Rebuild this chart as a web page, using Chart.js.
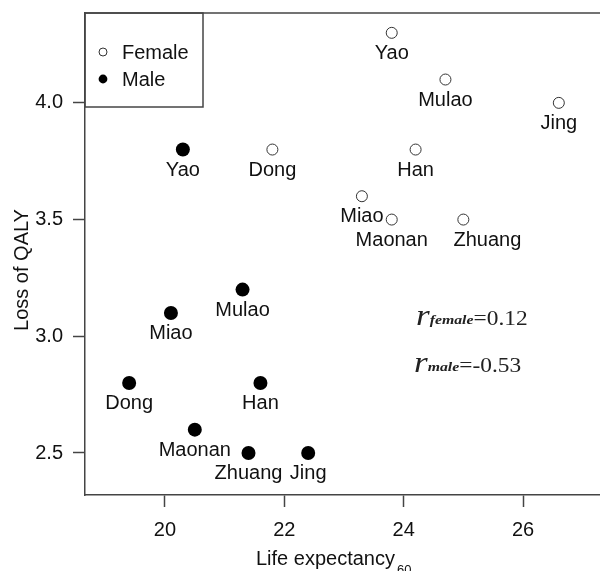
<!DOCTYPE html>
<html>
<head>
<meta charset="utf-8">
<script src="https://cdn.jsdelivr.net/npm/chart.js@4.4.1/dist/chart.umd.min.js"></script>
<style>
  html, body { margin: 0; padding: 0; background: #fff; }
  #wrap { width: 600px; height: 571px; }
</style>
</head>
<body>
<div id="wrap"><canvas id="qaly-chart" width="600" height="571"></canvas></div>
<script>
// values
const femaleGroups = ['Yao', 'Mulao', 'Jing', 'Dong', 'Han', 'Miao', 'Maonan', 'Zhuang'];
const femaleLife = [23.8, 24.7, 26.6, 21.8, 24.2, 23.3, 23.8, 25.0];
const femaleQaly = [4.3, 4.1, 4.0, 3.8, 3.8, 3.6, 3.5, 3.5];

const maleGroups = ['Yao', 'Mulao', 'Miao', 'Dong', 'Han', 'Maonan', 'Zhuang', 'Jing'];
const maleLife = [20.3, 21.3, 20.1, 19.4, 21.6, 20.5, 21.4, 22.4];
const maleQaly = [3.8, 3.2, 3.1, 2.8, 2.8, 2.6, 2.5, 2.5];

const xTicks = [20, 22, 24, 26];
const yTicks = [2.5, 3.0, 3.5, 4.0];

const legendLabels = ['Female', 'Male'];
const rFemale = '0.12';
const rMale = '-0.53';

const sans = '"Liberation Sans", Arial, Helvetica, sans-serif';
const serif = '"Liberation Serif", "Times New Roman", serif';
const ink = '#111';
const axisInk = '#444';

// the female Zhuang name sits to the right of its point in the figure, so it doesn't run into Maonan
const labelShift = { 'Female:Zhuang': 24 };

const toPoints = (xs, ys) => xs.map((x, i) => ({ x: x, y: ys[i] }));

// draws the group names under each point, the frame top, legend, titles and r values
const extrasPlugin = {
  id: 'extras',
  afterDatasetsDraw(chart) {
    const ctx = chart.ctx;
    const area = chart.chartArea;
    const names = [femaleGroups, maleGroups];

    ctx.save();
    ctx.fillStyle = ink;
    ctx.font = `20px ${sans}`;
    ctx.textAlign = 'center';
    ctx.textBaseline = 'alphabetic';
    names.forEach((list, di) => {
      const setName = chart.data.datasets[di].label;
      chart.getDatasetMeta(di).data.forEach((pt, i) => {
        const dx = labelShift[setName + ':' + list[i]] || 0;
        ctx.fillText(list[i], pt.x + dx, pt.y + 26);
      });
    });
    ctx.restore();

    // top edge of the box (left and bottom come from the axes)
    ctx.save();
    ctx.strokeStyle = axisInk;
    ctx.lineWidth = 1.5;
    ctx.beginPath();
    ctx.moveTo(area.left, area.top);
    ctx.lineTo(area.right, area.top);
    ctx.stroke();

    // legend box
    const lx = area.left, ly = area.top;
    ctx.strokeRect(lx, ly, 118, 94);
    ctx.beginPath();
    ctx.arc(lx + 18, ly + 39, 4, 0, Math.PI * 2);
    ctx.fillStyle = '#fff';
    ctx.fill();
    ctx.lineWidth = 1;
    ctx.strokeStyle = '#333';
    ctx.stroke();
    ctx.beginPath();
    ctx.arc(lx + 18, ly + 66, 4.4, 0, Math.PI * 2);
    ctx.fillStyle = '#000';
    ctx.fill();
    ctx.fillStyle = ink;
    ctx.font = `20px ${sans}`;
    ctx.textAlign = 'left';
    ctx.textBaseline = 'middle';
    ctx.fillText(legendLabels[0], lx + 37, ly + 40);
    ctx.fillText(legendLabels[1], lx + 37, ly + 67);
    ctx.restore();

    // axis titles
    ctx.save();
    ctx.fillStyle = ink;
    ctx.font = `20px ${sans}`;
    ctx.textBaseline = 'alphabetic';
    ctx.textAlign = 'left';
    const xt = 'Life expectancy';
    ctx.fillText(xt, 256, 565);
    const w = ctx.measureText(xt).width;
    ctx.font = `13px ${sans}`;
    ctx.fillText('60', 256 + w + 2, 574);

    ctx.translate(28, 270);
    ctx.rotate(-Math.PI / 2);
    ctx.font = `20px ${sans}`;
    ctx.textAlign = 'center';
    ctx.fillText('Loss of QALY', 0, 0);
    ctx.restore();

    // correlation notes
    const drawR = (x, y, sub, val) => {
      ctx.save();
      ctx.translate(x, y);
      ctx.scale(1.17, 1);
      ctx.fillStyle = '#222';
      ctx.textAlign = 'left';
      ctx.textBaseline = 'alphabetic';
      let cx = 0;
      ctx.font = `italic 30px ${serif}`;
      ctx.fillText('r', cx, 0);
      cx += ctx.measureText('r').width;
      ctx.font = `italic bold 13.5px ${serif}`;
      ctx.fillText(sub, cx, -1);
      cx += ctx.measureText(sub).width;
      ctx.font = `20px ${serif}`;
      ctx.fillText('=' + val, cx, 0);
      ctx.restore();
    };
    drawR(416, 325, 'female', rFemale);
    drawR(414, 372, 'male', rMale);
  }
};

// keep the plot box where the figure has it: no extra room for end labels
const noEdgePadding = (scale) => {
  scale.paddingTop = 0;
  scale.paddingBottom = 0;
  scale.paddingLeft = 0;
  scale.paddingRight = 0;
};

const axisCommon = {
  grid: {
    drawOnChartArea: false,
    drawTicks: true,
    tickLength: 12,
    tickColor: axisInk,
    tickWidth: 1.5
  },
  border: { display: true, color: axisInk, width: 1.5 }
};

new Chart(document.getElementById('qaly-chart'), {
  type: 'scatter',
  data: {
    datasets: [
      {
        label: 'Female',
        data: toPoints(femaleLife, femaleQaly),
        pointRadius: 5.5,
        pointBackgroundColor: '#fff',
        pointBorderColor: '#333',
        pointBorderWidth: 1
      },
      {
        label: 'Male',
        data: toPoints(maleLife, maleQaly),
        pointRadius: 7,
        pointBackgroundColor: '#000',
        pointBorderColor: '#000',
        pointBorderWidth: 0
      }
    ]
  },
  options: {
    responsive: false,
    animation: false,
    devicePixelRatio: 1,
    layout: { autoPadding: false, padding: { top: 13, left: 0, right: 0, bottom: 0 } },
    plugins: {
      legend: { display: false },
      tooltip: { enabled: false }
    },
    scales: {
      x: {
        ...axisCommon,
        type: 'linear',
        min: 18.66,
        max: 27.29,
        afterBuildTicks: (scale) => { scale.ticks = xTicks.map(v => ({ value: v })); },
        afterFit: (scale) => { scale.height = 76; noEdgePadding(scale); },
        ticks: {
          font: { size: 20, family: sans },
          color: ink,
          padding: 11,
          maxRotation: 0
        }
      },
      y: {
        ...axisCommon,
        type: 'linear',
        min: 2.32,
        max: 4.385,
        afterBuildTicks: (scale) => { scale.ticks = yTicks.map(v => ({ value: v })); },
        afterFit: (scale) => { scale.width = 85; noEdgePadding(scale); },
        ticks: {
          font: { size: 20, family: sans },
          color: ink,
          padding: 10,
          callback: (v) => Number(v).toFixed(1)
        }
      }
    }
  },
  plugins: [extrasPlugin]
});
</script>
</body>
</html>
